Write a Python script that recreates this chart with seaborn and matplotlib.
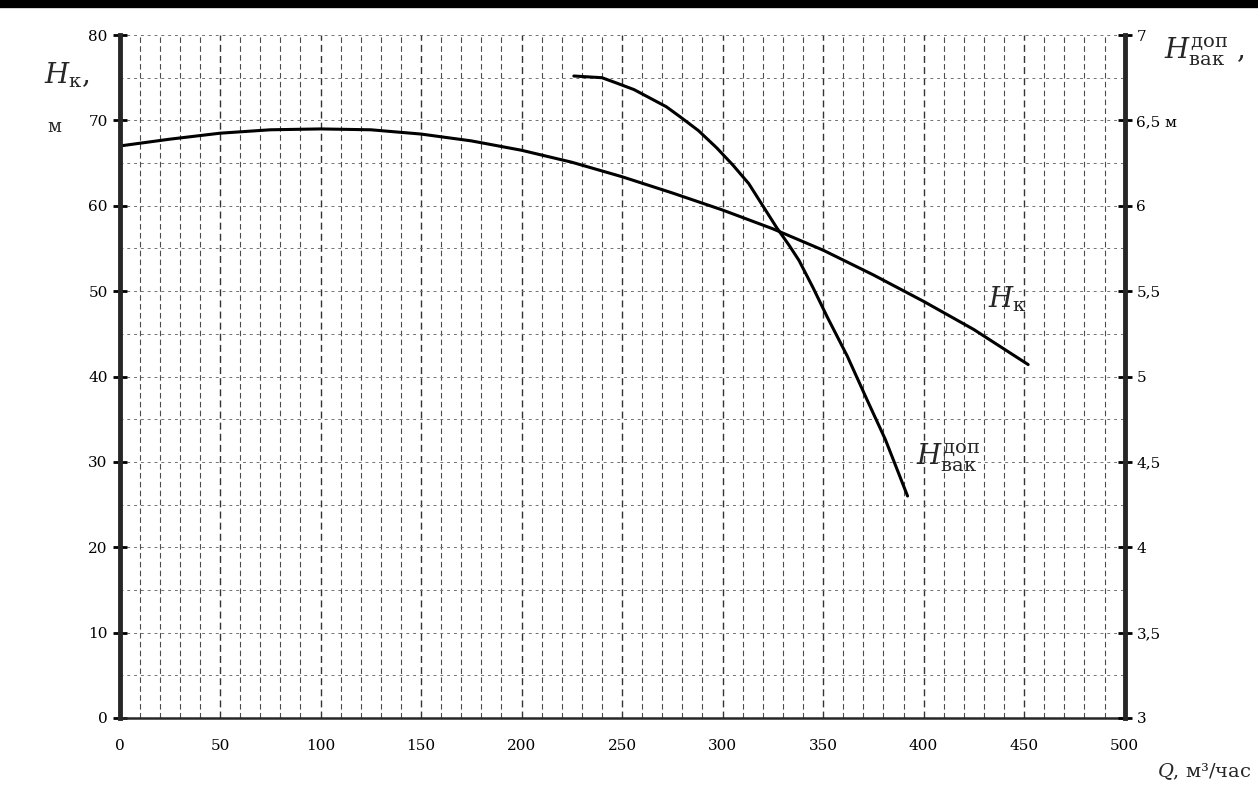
import numpy as np
import pandas as pd
import matplotlib
matplotlib.use('Agg')
import matplotlib.pyplot as plt
import seaborn as sns
from matplotlib.ticker import MultipleLocator

# Head curve H_k (left axis, m)
q_head = [0, 25, 50, 75, 100, 125, 150, 175, 200, 225, 250, 275, 300, 325, 350, 375, 400, 425, 452]
h_head = [67.0, 67.8, 68.5, 68.9, 69.0, 68.9, 68.4, 67.6, 66.5, 65.1, 63.4, 61.5, 59.5, 57.3, 54.8, 51.9, 48.8, 45.5, 41.4]

# Allowed suction head H_vak (right axis, m)
q_vak = [226, 240, 247, 256, 264, 272, 279, 288, 297, 305, 313, 320, 327, 333, 338, 345, 352, 362, 372, 381, 392]
h_vak = [6.76, 6.75, 6.72, 6.68, 6.63, 6.58, 6.52, 6.44, 6.34, 6.24, 6.13, 6.00, 5.87, 5.77, 5.68, 5.52, 5.35, 5.12, 4.86, 4.63, 4.30]

x_ticks = list(range(0, 501, 50))
left_ticks = list(range(0, 81, 10))
right_ticks = [3, 3.5, 4, 4.5, 5, 5.5, 6, 6.5, 7]
right_labels = ['3', '3,5', '4', '4,5', '5', '5,5', '6', '6,5 м', '7']

sns.set_style('white')
plt.rcParams['font.family'] = ['DejaVu Serif', 'DejaVu Sans']
plt.rcParams['mathtext.fontset'] = 'dejavuserif'

fig = plt.figure(figsize=(12.58, 7.96), dpi=100)
ax = fig.add_axes([0.095, 0.098, 0.799, 0.858])
ax2 = ax.twinx()

head = pd.DataFrame({'Q': q_head, 'H': h_head})
vak = pd.DataFrame({'Q': q_vak, 'H': h_vak})
sns.lineplot(data=head, x='Q', y='H', ax=ax, color='black', lw=2.2)
sns.lineplot(data=vak, x='Q', y='H', ax=ax2, color='black', lw=2.2)

ax.set_xlim(0, 500)
ax.set_ylim(0, 80)
ax2.set_ylim(3, 7)
ax.set_xticks(x_ticks)
ax.set_yticks(left_ticks)
ax2.set_yticks(right_ticks)
ax2.set_yticklabels(right_labels)
ax.set_xlabel('')
ax.set_ylabel('')
ax2.set_ylabel('')

# scan-like dashed grid
ax.xaxis.set_minor_locator(MultipleLocator(10))
ax.yaxis.set_minor_locator(MultipleLocator(5))
ax.grid(which='major', axis='x', color='0.2', ls=(0, (5, 3)), lw=1.0)
ax.grid(which='minor', axis='x', color='0.3', ls=(0, (5, 3)), lw=0.8)
ax.grid(which='both', axis='y', color='0.45', ls=(0, (3, 4)), lw=0.7)
ax.set_axisbelow(True)

for a in (ax, ax2):
    a.spines['top'].set_visible(False)
ax.spines['left'].set_linewidth(3.5)
ax.spines['bottom'].set_linewidth(1.8)
ax2.spines['right'].set_linewidth(3.5)
ax2.spines['left'].set_visible(False)
ax2.spines['bottom'].set_visible(False)

ax.tick_params(axis='both', which='major', direction='inout', length=10, width=2, labelsize=11, colors='black')
ax.tick_params(axis='both', which='minor', length=0)
ax.tick_params(axis='x', pad=10)
ax2.tick_params(axis='y', direction='inout', length=10, width=2, labelsize=11, colors='black')

# axis titles
fig.text(0.035, 0.905, r'$H_{\mathrm{к}}$,', fontsize=20, ha='left', va='center')
fig.text(0.038, 0.84, 'м', fontsize=13, ha='left', va='center')
fig.text(0.925, 0.935, r'$H_{\mathrm{вак}}^{\mathrm{доп}}$ ,', fontsize=20, ha='left', va='center')
fig.text(0.995, 0.03, r'$Q$, м³/час', fontsize=14, ha='right', va='center')

# curve labels
ax.text(432, 49, r'$H_{\mathrm{к}}$', fontsize=20, ha='left', va='center')
ax.text(396, 30.5, r'$H_{\mathrm{вак}}^{\mathrm{доп}}$', fontsize=20, ha='left', va='center')

# thick rule at top of page
fig.add_artist(plt.Line2D([0, 1], [0.995, 0.995], color='black', lw=6, transform=fig.transFigure))

fig.savefig('out.png', dpi=100)
